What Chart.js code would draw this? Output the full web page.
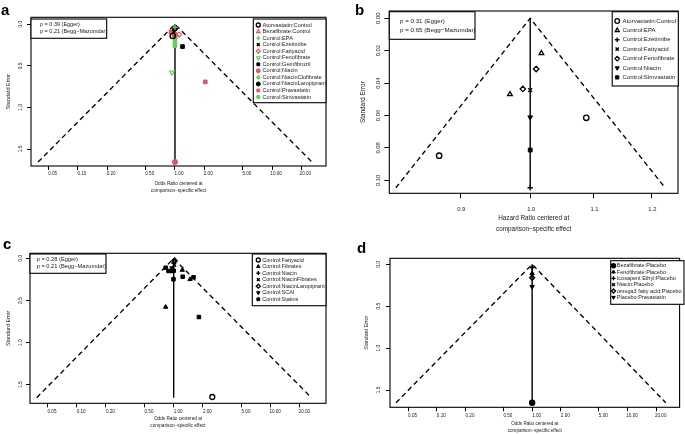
<!DOCTYPE html>
<html><head><meta charset="utf-8">
<script src="https://cdn.jsdelivr.net/npm/chart.js@4.4.1/dist/chart.umd.min.js"></script>
<style>
html,body{margin:0;padding:0;background:#fff;width:685px;height:434px;overflow:hidden;position:relative}
canvas{position:absolute}
</style></head><body>
<canvas id="ca"></canvas><canvas id="cb"></canvas><canvas id="cc"></canvas><canvas id="cd"></canvas>
<script>
// ---------- DATA ----------
// Panel a
const aNames = ["Atorvastatin:Control","Bezafibrate:Control","Control:EPA","Control:Ezetimibe","Control:Fattyacid","Control:Fenofibrate","Control:Gemfibrozil","Control:Niacin","Control:NiacinClofibrate","Control:NiacinLaropiprant","Control:Pravastatin","Control:Simvastatin"];
const aOR = [[0.947],[1.024],[1.0],[0.98],[1.10],[0.931],[1.195],[0.99,1.0],[1.0],[1.0],[0.91,2.05],[1.0,1.0]];
const aSE = [[0.14],[0.124],[0.036],[0.09],[0.124],[0.58],[0.268],[0.13,1.656],[0.17],[0.05],[0.092,0.693],[0.216,0.258]];
const aFunnelX = [0.0389, 1, 25.7];
const aFunnelY = [1.656, 0, 1.656];
const aCenterX = [1, 1];
const aCenterY = [0, 1.656];
const aXTicks = [0.05,0.1,0.2,0.5,1,2,5,10,20];
const aYTicks = [0,0.5,1,1.5];
const aP = ["p = 0.39 (Egger)","p = 0.21 (Begg\u2212Mazumdar)"];

// Panel b
const bNames = ["Atorvastatin:Control","Control:EPA","Control:Ezetimibe","Control:Fattyacid","Control:Fenofibrate","Control:Niacin","Control:Simvastatin"];
const bHR = [[0.872,1.088],[0.970,1.017],[1.0],[1.0],[0.989,1.009],[1.0],[1.0]];
const bSE = [[0.0848,0.0614],[0.0469,0.0216],[0.1046],[0.0443],[0.0436,0.0313],[0.0611],[0.0813]];
const bFunnelX = [0.817, 1, 1.225];
const bFunnelY = [0.1046, 0, 0.1046];
const bCenterX = [1, 1];
const bCenterY = [0, 0.1046];
const bXTicks = [0.9,1.0,1.1,1.2];
const bYTicks = [0,0.02,0.04,0.06,0.08,0.10];
const bP = ["p = 0.31 (Egger)","p = 0.65 (Begg\u2212Mazumdar)"];

// Panel c
const cNames = ["Control:Fattyacid","Control:Fibrates","Control:Niacin","Control:NiacinFibrates","Control:NiacinLaropiprant","Control:SCAI","Control:Statins"];
const cOR = [[2.50],[0.827,1.473,1.226],[1.0],[1.014],[1.02],[0.96],[0.827,0.884,0.954,0.995,1.238,1.60,1.82,1.0]];
const cSE = [[1.645],[0.576,0.247,0.137],[0.053],[0.077],[0.024],[0.113],[0.109,0.148,0.148,0.247,0.216,0.223,0.695,0.145]];
const cFunnelX = [0.0387, 1, 26.3];
const cFunnelY = [1.653, 0, 1.653];
const cCenterX = [1, 1];
const cCenterY = [0, 1.653];
const cXTicks = [0.05,0.1,0.2,0.5,1,2,5,10,20];
const cYTicks = [0,0.5,1,1.5];
const cP = ["p = 0.28 (Egger)","p = 0.21 (Begg\u2212Mazumdar)"];

// Panel d
const dNames = ["Bezafibrate:Placebo","Fenofibrate:Placebo","Icosapent Ethyl:Placebo","Niacin:Placebo","omega3 fatty acid:Placebo","Placebo:Pravastatin"];
const dOR = [[1.0],[1.0],[1.0],[1.0],[1.0],[1.0]];
const dSE = [[1.652],[0.107],[0.04],[0.136],[0.16],[0.267]];
const dFunnelX = [0.0373, 1, 25.2];
const dFunnelY = [1.652, 0, 1.652];
const dCenterX = [1, 1];
const dCenterY = [0, 1.652];
const dXTicks = [0.05,0.1,0.2,0.5,1,2,5,10,20];
const dYTicks = [0,0.5,1,1.5];

const orTitle = ["Odds Ratio centered at","comparison\u2212specific effect"];
const hrTitle = ["Hazard Ratio centered at","comparison\u2212specific effect"];
const yTitle = "Standard Error";

// ---------- STYLES ----------
const K='#000000', R='#DF536B', G='#61D04F';
const FF='"Liberation Sans", Arial, Helvetica, sans-serif';
const TXT='#1a1a1a';
const aStyles = [
 {c:K,s:'circle',fill:false,lw:1.4},{c:R,s:'triangle',fill:false,lw:1.2},{c:G,s:'cross',lw:1.4},{c:K,s:'crossRot',lw:1.5},
 {c:R,s:'rectRot',fill:false,lw:1.2},{c:G,s:'triangle',rot:180,fill:false,lw:1.2},{c:K,s:'rect',fill:true},{c:R,s:'circle',fill:true},
 {c:G,s:'rectRot',fill:true},{c:K,s:'circle',fill:true},{c:R,s:'rect',fill:true},{c:G,s:'rect',fill:true}];
const bStyles = [
 {c:K,s:'circle',fill:false,lw:1.3},{c:K,s:'triangle',fill:false,lw:1.3},{c:K,s:'cross',lw:1.4},{c:K,s:'crossRot',lw:1.4},
 {c:K,s:'rectRot',fill:false,lw:1.3},{c:K,s:'triangle',rot:180,fill:true},{c:K,s:'rect',fill:true}];
const cStyles = [
 {c:K,s:'circle',fill:false,lw:1.3},{c:K,s:'triangle',fill:true},{c:K,s:'cross',lw:1.4},{c:K,s:'crossRot',lw:1.4},
 {c:K,s:'rectRot',fill:false,lw:1.3},{c:K,s:'triangle',rot:180,fill:true},{c:K,s:'rect',fill:true}];
const dStyles = [
 {c:K,s:'circle',fill:true,lw:1.4},{c:K,s:'triangle',fill:true},{c:K,s:'cross',lw:1.4},{c:K,s:'crossRot',lw:1.4},
 {c:K,s:'rectRot',fill:false,lw:1.3},{c:K,s:'triangle',rot:180,fill:true}];

const decoCfg = {};

function drawMarker(ctx, st, r, x, y) {
  ctx.save();
  ctx.strokeStyle = st.c;
  ctx.fillStyle = st.fill ? st.c : 'rgba(0,0,0,0)';
  ctx.lineWidth = st.lw || 1;
  if (Chart.helpers && Chart.helpers.drawPoint) {
    Chart.helpers.drawPoint(ctx, {pointStyle: st.s, rotation: st.rot || 0, radius: r, borderWidth: st.lw || 1}, x, y);
  }
  ctx.restore();
}

const deco = {
  id: 'deco',
  afterDraw(chart) {
    const P = decoCfg[chart.canvas.id];
    const ctx = chart.ctx, ca = chart.chartArea;
    const ox = P.cx, oy = P.cy;
    ctx.save();
    ctx.strokeStyle = '#000'; ctx.lineWidth = 1.1;
    ctx.strokeRect(ca.left, ca.top, ca.right - ca.left, ca.bottom - ca.top);
    const ys = chart.scales.y;
    ctx.fillStyle = TXT;
    ctx.font = P.yTickFont + 'px ' + FF;
    ctx.textAlign = 'center'; ctx.textBaseline = 'middle';
    ys.ticks.forEach(t => {
      const py = ys.getPixelForValue(t.value);
      ctx.save();
      ctx.translate(P.yLabelX - ox, py);
      ctx.rotate(-Math.PI / 2);
      ctx.fillText(Number(t.value).toFixed(P.yDec), 0, 0);
      ctx.restore();
    });
    if (P.pbox) {
      const b = P.pbox;
      ctx.fillStyle = '#fff';
      ctx.fillRect(b.box[0]-ox, b.box[1]-oy, b.box[2]-b.box[0], b.box[3]-b.box[1]);
      ctx.strokeStyle = '#000'; ctx.lineWidth = 1.1;
      ctx.strokeRect(b.box[0]-ox, b.box[1]-oy, b.box[2]-b.box[0], b.box[3]-b.box[1]);
      ctx.fillStyle = TXT; ctx.font = b.font + 'px ' + FF;
      ctx.textAlign = 'left'; ctx.textBaseline = 'middle';
      b.lines.forEach((s, i) => ctx.fillText(s, b.tx - ox, b.ty[i] - oy));
    }
    const L = P.legend;
    ctx.fillStyle = '#fff';
    ctx.fillRect(L.box[0]-ox, L.box[1]-oy, L.box[2]-L.box[0], L.box[3]-L.box[1]);
    ctx.strokeStyle = '#000'; ctx.lineWidth = 1.1;
    ctx.strokeRect(L.box[0]-ox, L.box[1]-oy, L.box[2]-L.box[0], L.box[3]-L.box[1]);
    ctx.font = L.font + 'px ' + FF;
    ctx.textAlign = 'left'; ctx.textBaseline = 'middle';
    L.names.forEach((n, i) => {
      const y = L.y0 + i * L.step - oy;
      drawMarker(ctx, L.styles[i], L.r, L.mx - ox, y);
      ctx.fillStyle = TXT;
      ctx.fillText(n, L.tx - ox, y);
    });
    ctx.fillStyle = '#000';
    ctx.font = 'bold 15px ' + FF;
    ctx.textAlign = 'left'; ctx.textBaseline = 'alphabetic';
    ctx.fillText(P.letter, P.lx - ox, P.ly - oy);
    ctx.restore();
  }
};

function makeChart(id, P) {
  decoCfg[id] = P;
  const cv = document.getElementById(id);
  cv.width = P.cw; cv.height = P.ch;
  cv.style.left = P.cx + 'px'; cv.style.top = P.cy + 'px';
  const box = P.box;
  const ds = P.names.map((n, i) => {
    const st = P.styles[i];
    return {
      label: n,
      data: P.xs[i].map((x, j) => ({x: x, y: P.ys[i][j]})),
      showLine: false,
      pointStyle: st.s,
      pointRotation: st.rot || 0,
      pointRadius: P.r,
      pointBackgroundColor: st.fill ? st.c : 'rgba(0,0,0,0)',
      pointBorderColor: st.c,
      pointBorderWidth: st.lw || 1,
      order: 1
    };
  });
  ds.push({label:'funnel', data: P.fx.map((x,j)=>({x:x, y:P.fy[j]})), showLine:true, borderColor:'#000', borderWidth:1.35, borderDash:[5,3.5], pointRadius:0, order:5});
  ds.push({label:'center', data: P.vx.map((x,j)=>({x:x, y:P.vy[j]})), showLine:true, borderColor:'#000', borderWidth:1.4, pointRadius:0, order:5});
  return new Chart(cv, {
    type: 'scatter',
    data: {datasets: ds},
    options: {
      responsive: false, animation: false, devicePixelRatio: 1,
      layout: {padding: {left: 0, top: box[1] - P.cy, right: P.cx + P.cw - box[2], bottom: 0}},
      plugins: {legend: {display: false}, tooltip: {enabled: false}},
      scales: {
        x: {
          type: 'logarithmic', min: P.xMin, max: P.xMax,
          afterBuildTicks: s => { s.ticks = P.xTicks.map(v => ({value: v})); },
          afterFit: s => { s.height = P.cy + P.ch - box[3]; },
          ticks: {callback: v => Number(v).toFixed(P.xDec), font: {family: FF, size: P.xTickFont}, color: TXT,
                  padding: P.xTickPad, labelOffset: P.xLabelOffset, autoSkip: false, maxRotation: 0, minRotation: 0},
          grid: {drawOnChartArea: false, drawTicks: true, tickLength: P.xTl, color: '#000', tickColor: '#000', tickWidth: 1},
          border: {display: false},
          title: {display: true, text: P.xTitle, color: TXT,
                  font: {family: FF, size: P.xTitleFont, lineHeight: P.xTitleLH + 'px'},
                  padding: {top: 0, bottom: P.xTitlePad}}
        },
        y: {
          type: 'linear', reverse: true, min: P.yMin, max: P.yMax,
          afterBuildTicks: s => { s.ticks = P.yTicks.map(v => ({value: v})); },
          afterFit: s => { s.width = box[0] - P.cx; },
          ticks: {display: false},
          grid: {drawOnChartArea: false, drawTicks: true, tickLength: P.yTl, color: '#000', tickColor: '#000', tickWidth: 1},
          border: {display: false},
          title: {display: true, text: yTitle, color: TXT,
                  font: {family: FF, size: P.yTitleFont, lineHeight: P.yTitleLH + 'px'},
                  padding: {top: P.yTitlePad, bottom: 0}}
        }
      }
    },
    plugins: [deco]
  });
}

makeChart('ca', {
  cx:0, cy:0, cw:345, ch:215, box:[31,17.3,326,166],
  names:aNames, xs:aOR, ys:aSE, styles:aStyles, r:2.6,
  fx:aFunnelX, fy:aFunnelY, vx:aCenterX, vy:aCenterY,
  xMin:0.0329, xMax:35.9, xTicks:aXTicks, xDec:2, xTickFont:4.6, xTickPad:0.8, xLabelOffset:4, xTl:4,
  xTitle:orTitle, xTitleFont:4.7, xTitleLH:7.3, xTitlePad:20.3,
  yMin:-0.084, yMax:1.704, yTicks:aYTicks, yDec:1, yTickFont:4.8, yLabelX:21, yTl:4,
  yTitleFont:5.4, yTitleLH:6, yTitlePad:6,
  pbox:{box:[31,19,106.7,38.3], lines:aP, tx:40, ty:[24.3,31], font:5.5},
  legend:{box:[253.3,19,326,102.7], names:aNames, styles:aStyles, y0:25, step:6.55, mx:258.3, tx:262.5, font:5.6, r:2},
  letter:'a', lx:1, ly:15
});

makeChart('cb', {
  cx:345, cy:0, cw:340, ch:235, box:[389.3,11,678,193.3],
  names:bNames, xs:bHR, ys:bSE, styles:bStyles, r:2.7,
  fx:bFunnelX, fy:bFunnelY, vx:bCenterX, vy:bCenterY,
  xMin:0.809, xMax:1.249, xTicks:bXTicks, xDec:1, xTickFont:5.8, xTickPad:7.5, xLabelOffset:1, xTl:5,
  xTitle:hrTitle, xTitleFont:6.4, xTitleLH:11, xTitlePad:0.3,
  yMin:-0.0045, yMax:0.108, yTicks:bYTicks, yDec:2, yTickFont:5.8, yLabelX:378.3, yTl:5,
  yTitleFont:6.4, yTitleLH:7, yTitlePad:14.8,
  pbox:{box:[389.3,11.7,475,39.3], lines:bP, tx:400, ty:[21.7,30], font:6.2},
  legend:{box:[612.2,11.7,678.3,86], names:bNames, styles:bStyles, y0:21, step:9.4, mx:617.2, tx:622.5, font:6.1, r:2.3},
  letter:'b', lx:355, ly:15
});

makeChart('cc', {
  cx:0, cy:235, cw:345, ch:199, box:[30,253.3,326,403.3],
  names:cNames, xs:cOR, ys:cSE, styles:cStyles, r:2.5,
  fx:cFunnelX, fy:cFunnelY, vx:cCenterX, vy:cCenterY,
  xMin:0.033, xMax:37.2, xTicks:cXTicks, xDec:2, xTickFont:4.6, xTickPad:1.8, xLabelOffset:4.5, xTl:4,
  xTitle:orTitle, xTitleFont:4.7, xTitleLH:7.4, xTitlePad:4.6,
  yMin:-0.062, yMax:1.72, yTicks:cYTicks, yDec:1, yTickFont:4.8, yLabelX:20.7, yTl:4,
  yTitleFont:5.4, yTitleLH:6, yTitlePad:6,
  pbox:{box:[30,254,106,273.3], lines:cP, tx:36.7, ty:[259.3,266], font:5.7},
  legend:{box:[252.3,254,326,305.7], names:cNames, styles:cStyles, y0:260, step:6.55, mx:258.3, tx:262.3, font:5.5, r:2},
  letter:'c', lx:3, ly:249
});

makeChart('cd', {
  cx:345, cy:235, cw:340, ch:199, box:[390,258.3,684,407.3],
  names:dNames, xs:dOR, ys:dSE, styles:dStyles, r:2.5,
  fx:dFunnelX, fy:dFunnelY, vx:dCenterX, vy:dCenterY,
  xMin:0.0323, xMax:35.2, xTicks:dXTicks, xDec:2, xTickFont:4.6, xTickPad:2.1, xLabelOffset:4.5, xTl:4,
  xTitle:orTitle, xTitleFont:4.6, xTitleLH:6.7, xTitlePad:0,
  yMin:-0.0716, yMax:1.706, yTicks:dYTicks, yDec:1, yTickFont:4.8, yLabelX:379, yTl:4,
  yTitleFont:5.2, yTitleLH:6, yTitlePad:18.7,
  pbox:null,
  legend:{box:[610.7,260.7,684,304.3], names:dNames, styles:dStyles, y0:265.7, step:6.33, mx:613.5, tx:616.8, font:5.5, r:2},
  letter:'d', lx:357, ly:253
});
</script>
</body></html>
